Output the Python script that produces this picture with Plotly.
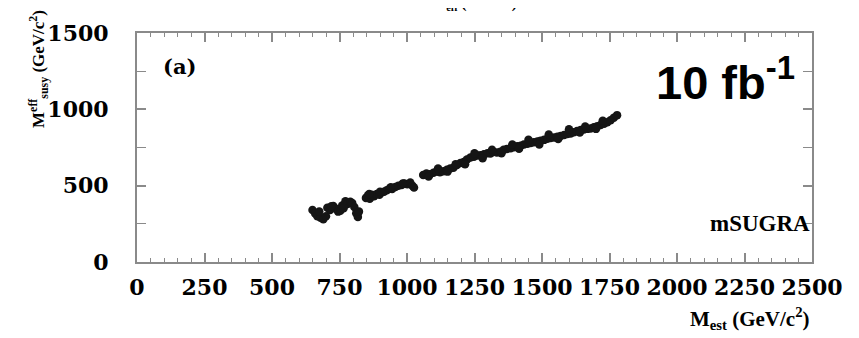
import plotly.graph_objects as go

# ---- data ----
m_est = [650, 660, 668, 680, 690, 700, 705, 715, 727, 735, 745, 753, 760, 772, 780, 790, 797, 805, 812, 818, 822,
         848, 855, 862, 870, 878, 888, 898, 905, 915, 925, 935, 945, 957, 968, 980, 990, 1001, 1012, 1020, 1026,
         1060, 1072, 1085, 1098, 1110, 1122, 1135, 1148, 1160, 1172, 1185, 1198, 1210, 1222, 1235, 1248, 1260,
         1272, 1285, 1298, 1309, 1320, 1333, 1346, 1358, 1370, 1384, 1396, 1408, 1421, 1433, 1446, 1458, 1470,
         1483, 1495, 1508, 1520, 1532, 1545, 1557, 1569, 1582, 1594, 1606, 1618, 1630, 1643, 1655, 1668, 1680,
         1692, 1705, 1717, 1730, 1742, 1754, 1766, 1778,
         1115, 1180, 1250, 1315, 1390, 1450, 1525, 1600, 1660, 1725,
         1080, 1150, 1215, 1280, 1350, 1415, 1490, 1560, 1640, 1700,
         860, 900, 940, 985, 675, 720, 765]
m_susy = [340, 318, 300, 290, 280, 300, 355, 340, 367, 350, 330, 336, 370, 398, 380, 395, 386, 360, 320, 295, 330,
          420, 435, 415, 440, 430, 445, 440, 455, 460, 470, 480, 478, 492, 500, 505, 515, 510, 520, 500, 488,
          570, 580, 575, 585, 592, 588, 595, 605, 612, 618, 635, 648, 655, 672, 685, 690, 698,
          700, 705, 712, 710, 720, 718, 722, 735, 740, 745, 752, 758, 762, 770, 775, 780, 785,
          790, 795, 800, 808, 812, 815, 820, 825, 832, 838, 842, 850, 858, 865, 868, 872, 875,
          882, 890, 898, 905, 915, 928, 945, 962,
          612, 640, 712, 735, 770, 800, 835, 870, 888, 925,
          560, 592, 640, 680, 712, 742, 770, 805, 848, 872,
          445, 460, 490, 515, 330, 365, 352]

x_ticks = [0, 250, 500, 750, 1000, 1250, 1500, 1750, 2000, 2250, 2500]
y_ticks = [0, 500, 1000, 1500]

fig = go.Figure()
fig.add_trace(go.Scatter(
    x=m_est, y=m_susy, mode="markers",
    marker=dict(size=8.5, color="#151515", line=dict(width=0)),
    showlegend=False, hoverinfo="skip",
))

axis_common = dict(
    showgrid=False, zeroline=False,
    showline=True, linecolor="#8a8a8a", linewidth=2,
    mirror="ticks", ticks="inside", tickcolor="#8a8a8a", tickwidth=1.5,
    tickangle=0,
    tickfont=dict(family="DejaVu Serif", size=22, color="black", weight="bold"),
)

# the page body adds an 8px offset, so the figure is sized to fit the window
fig.update_layout(
    width=851, height=330,
    margin=dict(l=129, r=47, t=13, b=76),
    paper_bgcolor="white", plot_bgcolor="white",
    xaxis=dict(range=[0, 2500], tickvals=x_ticks, ticklen=9,
               minor=dict(dtick=50, ticklen=4, ticks="inside", tickcolor="#8a8a8a", tickwidth=1),
               ticklabelstandoff=5, **axis_common),
    yaxis=dict(range=[0, 1500], tickvals=y_ticks, ticklen=9,
               minor=dict(dtick=250, ticklen=9, ticks="inside", tickcolor="#8a8a8a", tickwidth=1),
               ticklabelstandoff=22, **axis_common),
)

fig.add_annotation(xref="paper", yref="paper", x=0.036, y=0.855, xanchor="left", yanchor="middle",
                   text="<b>(a)</b>", showarrow=False,
                   font=dict(family="DejaVu Serif", size=21, color="black"))
fig.add_annotation(xref="paper", yref="paper", x=0.978, y=0.80, xanchor="right", yanchor="middle",
                   text="<b>10 fb<sup>-1</sup></b>", showarrow=False,
                   font=dict(family="Liberation Sans", size=47, color="black"))
fig.add_annotation(xref="paper", yref="paper", x=1.0, y=0.17, xanchor="right", yanchor="middle",
                   text="<b>mSUGRA</b>", showarrow=False,
                   font=dict(family="Liberation Serif", size=23, color="black"))
fig.add_annotation(xref="paper", yref="paper", x=1.0, y=-0.245, xanchor="right", yanchor="middle",
                   text="<b>M<sub>est</sub> (GeV/c<sup>2</sup>)</b>", showarrow=False,
                   font=dict(family="Liberation Serif", size=21, color="black"))
fig.add_annotation(xref="paper", yref="paper", x=-0.146, y=0.845, xanchor="center", yanchor="middle",
                   textangle=-90,
                   text="<b>M<sup>eff</sup><sub>susy</sub> (GeV/c<sup>2</sup>)</b>", showarrow=False,
                   font=dict(family="Liberation Serif", size=17, color="black"))
fig.add_annotation(xref="paper", yref="paper", x=0.50, y=1.0 + 19 / 241, xanchor="center", yanchor="bottom",
                   text="<b>M<sub>eff</sub> (GeV/c<sup>2</sup>)</b>", showarrow=False,
                   font=dict(family="Liberation Serif", size=15, color="black"))

fig.write_html("out.html")
